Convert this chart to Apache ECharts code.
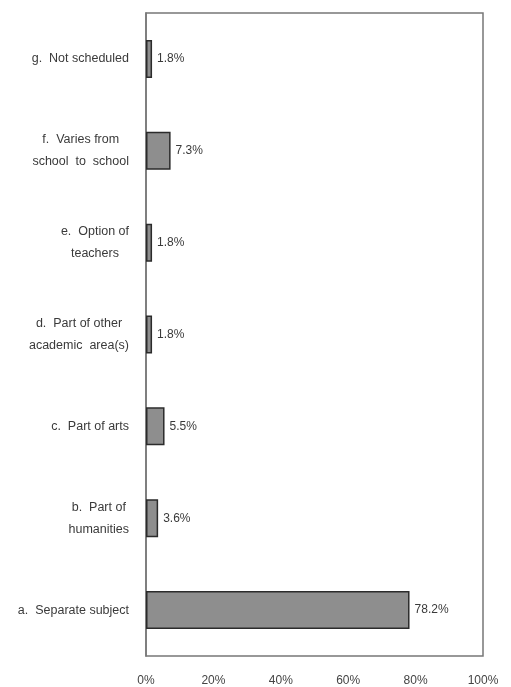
<!DOCTYPE html>
<html>
<head>
<meta charset="utf-8">
<script src="https://cdn.jsdelivr.net/npm/echarts@6/dist/echarts.min.js"></script>
<style>
html,body{margin:0;padding:0;background:#fff;}
#c{width:511px;height:687px;}
</style>
</head>
<body>
<div id="c"></div>
<script>
// Categories listed bottom to top
var categories = [
  'a.  Separate subject',
  'b.  Part of\nhumanities',
  'c.  Part of arts',
  'd.  Part of other\nacademic  area(s)',
  'e.  Option of\nteachers',
  'f.  Varies from\nschool  to  school',
  'g.  Not scheduled'
];
var values = [78.2, 3.6, 5.5, 1.8, 1.8, 7.3, 1.8];
var xTicks = [0, 20, 40, 60, 80, 100];

var chart = echarts.init(document.getElementById('c'));
chart.setOption({
  animation: false,
  backgroundColor: '#ffffff',
  grid: {
    left: 146, right: 28, top: 13, bottom: 31,
    show: true, borderColor: '#777', borderWidth: 1.5,
    containLabel: false
  },
  xAxis: {
    type: 'value',
    min: xTicks[0],
    max: xTicks[xTicks.length - 1],
    interval: xTicks[1] - xTicks[0],
    axisLine: { show: false },
    axisTick: { show: false },
    splitLine: { show: false },
    axisLabel: {
      formatter: '{value}%',
      color: '#444',
      fontFamily: 'Liberation Sans, Arial, sans-serif',
      fontSize: 12,
      margin: 19
    }
  },
  yAxis: {
    type: 'category',
    data: categories,
    axisLine: { show: true, lineStyle: { color: '#777', width: 1.5 } },
    axisTick: { show: false },
    splitLine: { show: false },
    axisLabel: {
      margin: 17,
      align: 'right',
      formatter: function (v) {
        return v.split('\n').map(function (s) { return '{c|' + s + '}'; }).join('\n');
      },
      rich: {
        c: {
          align: 'center',
          color: '#3a3a3a',
          fontFamily: 'Liberation Sans, Arial, sans-serif',
          fontSize: 12.5,
          lineHeight: 22
        }
      }
    }
  },
  series: [{
    type: 'bar',
    data: values,
    barWidth: 38,
    itemStyle: {
      color: '#8e8e8e',
      borderColor: '#2b2b2b',
      borderWidth: 1.5
    },
    label: {
      show: true,
      position: 'right',
      distance: 5,
      formatter: '{c}%',
      color: '#3a3a3a',
      fontFamily: 'Liberation Sans, Arial, sans-serif',
      fontSize: 12
    }
  }]
});
</script>
</body>
</html>
